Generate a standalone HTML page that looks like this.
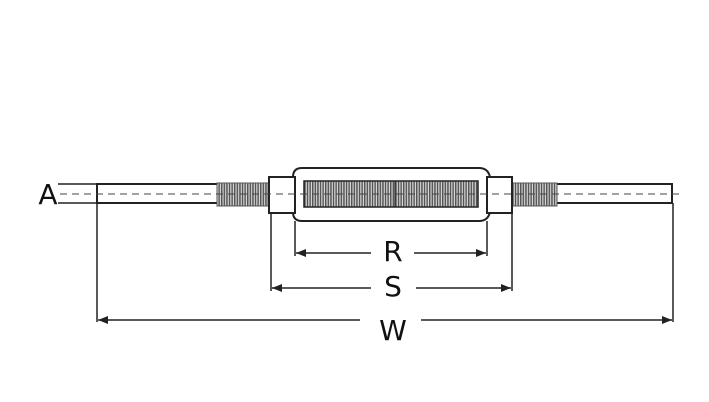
<!DOCTYPE html>
<html><head><style>html,body{margin:0;padding:0;background:#fff}svg{display:block}</style></head><body>
<svg width="709" height="402" viewBox="0 0 709 402" xmlns="http://www.w3.org/2000/svg">
<defs>
<pattern id="th" width="2.6" height="4" patternUnits="userSpaceOnUse"><rect width="2.6" height="4" fill="#ddd"/><rect width="1.5" height="4" fill="#555"/></pattern>
<marker id="ar" viewBox="0 0 10 10" refX="10" refY="5" markerWidth="10" markerHeight="10" markerUnits="userSpaceOnUse" orient="auto-start-reverse"><path d="M0,1 L10,5 L0,9 Z" fill="#222"/></marker>
</defs>
<g stroke="#222" stroke-width="2" fill="none">
<rect x="97" y="184" width="121" height="19" fill="#fff"/>
<rect x="556" y="184" width="116" height="19" fill="#fff"/>
<rect x="217" y="183" width="51" height="23" fill="url(#th)" stroke="#555" stroke-width="1"/>
<rect x="512" y="183" width="45" height="23" fill="url(#th)" stroke="#555" stroke-width="1"/>
<path d="M302,168 H479 Q488,168 490,177 V212 Q488,221 479,221 H302 Q293,221 293,212 V177 Q293,168 302,168 Z" fill="#fff"/>
<rect x="304" y="181" width="174" height="26" fill="url(#th)" stroke-width="1.5"/>
<line x1="395" y1="181" x2="395" y2="207" stroke-width="1"/>
<rect x="269" y="177" width="26" height="36" fill="#fff"/>
<rect x="487" y="177" width="25" height="36" fill="#fff"/>
</g>
<line x1="60" y1="194" x2="682" y2="194" stroke="#444" stroke-width="1" stroke-dasharray="7,5"/>
<g stroke="#222" stroke-width="1.5" fill="none">
<line x1="58" y1="184" x2="97" y2="184"/>
<line x1="58" y1="203" x2="97" y2="203"/>
<line x1="97" y1="203" x2="97" y2="322"/>
<line x1="673" y1="203" x2="673" y2="322"/>
<line x1="271" y1="213" x2="271" y2="291"/>
<line x1="512" y1="213" x2="512" y2="291"/>
<line x1="295" y1="221" x2="295" y2="256"/>
<line x1="487" y1="221" x2="487" y2="256"/>
<line x1="371" y1="253" x2="296" y2="253" marker-end="url(#ar)"/>
<line x1="414" y1="253" x2="486" y2="253" marker-end="url(#ar)"/>
<line x1="371" y1="288" x2="272" y2="288" marker-end="url(#ar)"/>
<line x1="416" y1="288" x2="511" y2="288" marker-end="url(#ar)"/>
<line x1="360" y1="320" x2="98" y2="320" marker-end="url(#ar)"/>
<line x1="421" y1="320" x2="672" y2="320" marker-end="url(#ar)"/>
</g>
<g font-family="DejaVu Sans, sans-serif" font-size="28" fill="#111" text-anchor="middle">
<text x="48" y="204">A</text>
<text x="393" y="261">R</text>
<text x="393" y="296">S</text>
<text x="393" y="340">W</text>
</g>
</svg>
</body></html>
